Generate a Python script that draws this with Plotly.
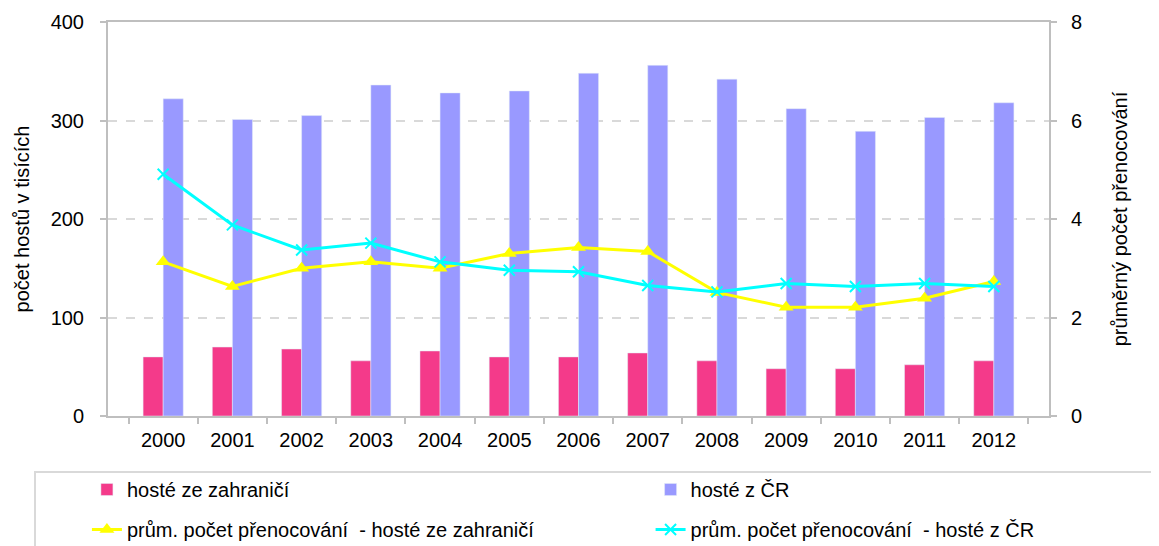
import plotly.graph_objects as go

roky = ['2000', '2001', '2002', '2003', '2004', '2005', '2006',
        '2007', '2008', '2009', '2010', '2011', '2012']
hoste_zahranici = [60, 70, 68, 56, 66, 60, 60, 64, 56, 48, 48, 52, 56]
hoste_cr = [322, 301, 305, 336, 328, 330, 348, 356, 342, 312, 289, 303, 318]
prenoc_zahranici = [3.13, 2.63, 3.0, 3.13, 3.0, 3.30, 3.42, 3.34, 2.51, 2.21, 2.21, 2.39, 2.73]
prenoc_cr = [4.91, 3.88, 3.37, 3.51, 3.13, 2.96, 2.93, 2.65, 2.52, 2.69, 2.63, 2.69, 2.63]

font = "Liberation Sans, Arial, sans-serif"
grey = "#bfbfbf"

fig = go.Figure()
fig.add_trace(go.Bar(x=roky, y=hoste_zahranici, name="hosté ze zahraničí",
                     marker_color="#f43a8a", legend="legend", legendgroup="a"))
fig.add_trace(go.Bar(x=roky, y=hoste_cr, name="hosté z ČR",
                     marker_color="#9999ff", legend="legend2", legendgroup="c"))
fig.add_trace(go.Scatter(x=roky, y=prenoc_zahranici, yaxis="y2", mode="lines+markers",
                         name="prům. počet přenocování  - hosté ze zahraničí",
                         line=dict(color="#ffff00", width=3),
                         marker=dict(symbol="triangle-up", size=13, color="#ffff00"),
                         legend="legend", legendgroup="b"))
fig.add_trace(go.Scatter(x=roky, y=prenoc_cr, yaxis="y2", mode="lines+markers",
                         name="prům. počet přenocování  - hosté z ČR",
                         line=dict(color="#00ffff", width=3),
                         marker=dict(symbol="x-thin-open", size=11,
                                     line=dict(color="#00ffff", width=2)),
                         legend="legend2", legendgroup="d"))

leg = dict(font=dict(family=font, size=20, color="black"), bgcolor="rgba(0,0,0,0)",
           tracegroupgap=11, yanchor="top", xanchor="left", traceorder="grouped")

# stranka ma okraj 8 px, proto je obrazek o 8 px mensi
fig.update_layout(
    width=1151, height=538,
    margin=dict(l=100, r=110, t=14, b=130, autoexpand=False),
    plot_bgcolor="white", paper_bgcolor="white",
    font=dict(family=font, size=20, color="black"),
    barmode="group", bargap=0.42, bargroupgap=0,
    legend=dict(x=-0.0224, y=-0.137, **leg),
    legend2=dict(x=0.5766, y=-0.137, **leg),
    xaxis=dict(type="category", showline=True, linecolor=grey, linewidth=2, mirror=True,
               ticks="outside", ticklen=6, tickcolor=grey, tickwidth=2,
               tickson="boundaries", showgrid=False, ticklabelstandoff=5,
               automargin=False),
    yaxis=dict(range=[0, 400], dtick=100, showline=True, linecolor=grey, linewidth=2,
               ticks="outside", ticklen=6, tickcolor=grey, tickwidth=2,
               showgrid=True, gridcolor="#d9d9d9", griddash="dash", gridwidth=1.5,
               zeroline=False, ticklabelstandoff=12, automargin=False,
               title=dict(text="počet hostů v tisících", standoff=16,
                          font=dict(size=20))),
    yaxis2=dict(range=[0, 8], dtick=2, overlaying="y", side="right", showline=True,
                linecolor=grey, linewidth=2, ticks="outside", ticklen=6, tickcolor=grey,
                tickwidth=2, showgrid=False, zeroline=False, ticklabelstandoff=10,
                automargin=False,
                title=dict(text="průměrný počet přenocování", standoff=32,
                           font=dict(size=20))),
    shapes=[dict(type="rect", xref="paper", yref="paper",
                 x0=(35 - 108) / 941, x1=(1175 - 108) / 941,
                 y0=(416 - 560) / 394, y1=(416 - 472) / 394,
                 line=dict(color="#d9d9d9", width=2), layer="below")],
)

fig.write_html("out.html")
